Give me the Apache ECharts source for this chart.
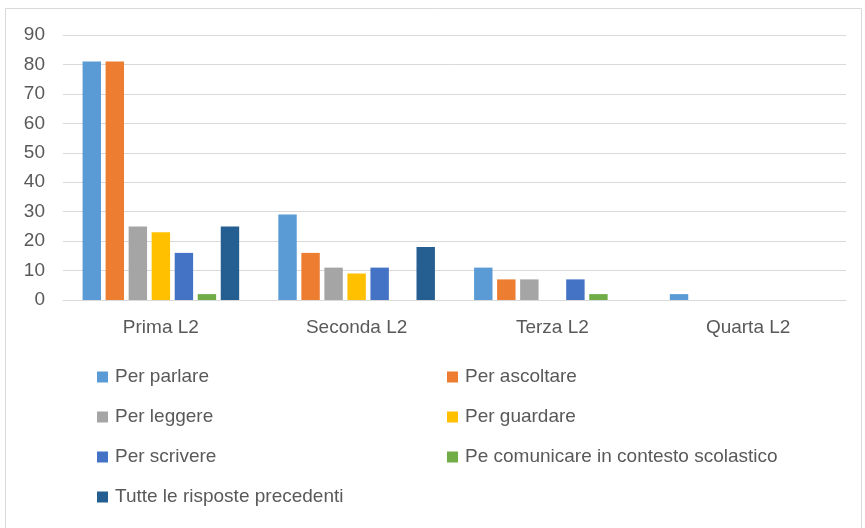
<!DOCTYPE html>
<html>
<head>
<meta charset="utf-8">
<script src="https://cdn.jsdelivr.net/npm/echarts@6/dist/echarts.min.js"></script>
<style>
  html, body { margin: 0; padding: 0; background: #fff; }
  #chart { width: 865px; height: 528px; }
</style>
</head>
<body>
<div id="chart"></div>
<script>
// dati
var categories = ["Prima L2", "Seconda L2", "Terza L2", "Quarta L2"];
var seriesNames = [
  "Per parlare",
  "Per ascoltare",
  "Per leggere",
  "Per guardare",
  "Per scrivere",
  "Pe comunicare in contesto scolastico",
  "Tutte le risposte precedenti"
];
var perParlare = [81, 29, 11, 2];
var perAscoltare = [81, 16, 7, 0];
var perLeggere = [25, 11, 7, 0];
var perGuardare = [23, 9, 0, 0];
var perScrivere = [16, 11, 7, 0];
var perComunicare = [2, 0, 2, 0];
var tutte = [25, 18, 0, 0];
var yTicks = [0, 10, 20, 30, 40, 50, 60, 70, 80, 90];

var colors = ["#5B9BD5", "#ED7D31", "#A5A5A5", "#FFC000", "#4472C4", "#70AD47", "#255E91"];
var values = [perParlare, perAscoltare, perLeggere, perGuardare, perScrivere, perComunicare, tutte];
var font = "'Liberation Sans', Arial, sans-serif";

var chart = echarts.init(document.getElementById("chart"));

var legendStyle = {
  orient: "vertical",
  icon: "rect",
  itemWidth: 11,
  itemHeight: 11,
  itemGap: 20,
  textStyle: { color: "#595959", fontSize: 19, lineHeight: 20, fontFamily: font, padding: [0, 0, 0, 2] }
};

var option = {
  color: colors,
  animation: false,
  graphic: [{
    type: "rect",
    shape: { x: 5.5, y: 8.5, width: 856, height: 530 },
    style: { fill: "none", stroke: "#d9d9d9", lineWidth: 1 },
    silent: true
  }],
  grid: { left: 63, right: 19, top: 35, bottom: 228 },
  legend: [
    Object.assign({ left: 92, top: 362, data: [seriesNames[0], seriesNames[2], seriesNames[4], seriesNames[6]] }, legendStyle),
    Object.assign({ left: 442, top: 362, data: [seriesNames[1], seriesNames[3], seriesNames[5]] }, legendStyle)
  ],
  xAxis: {
    type: "category",
    data: categories,
    axisLine: { lineStyle: { color: "#d9d9d9" } },
    axisTick: { show: false },
    axisLabel: { color: "#595959", fontSize: 19, fontFamily: font, margin: 18 }
  },
  yAxis: {
    type: "value",
    min: yTicks[0],
    max: yTicks[yTicks.length - 1],
    interval: 10,
    axisLine: { show: false },
    axisTick: { show: false },
    splitLine: { lineStyle: { color: "#d9d9d9" } },
    axisLabel: { color: "#595959", fontSize: 19, fontFamily: font, margin: 18 }
  },
  series: seriesNames.map(function (name, i) {
    return {
      name: name,
      type: "bar",
      data: values[i],
      barGap: "25%",
      barCategoryGap: "20%"
    };
  })
};

chart.setOption(option);
</script>
</body>
</html>
